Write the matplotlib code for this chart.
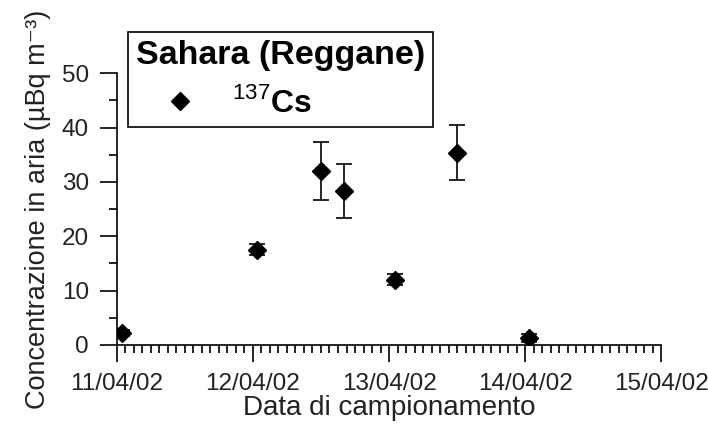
import matplotlib
matplotlib.use("Agg")
import matplotlib.pyplot as plt
import matplotlib.dates as mdates
from matplotlib.ticker import MultipleLocator
from datetime import datetime

plt.rcParams['font.family'] = ['Liberation Sans', 'DejaVu Sans']
plt.rcParams['mathtext.fontset'] = 'custom'
plt.rcParams['mathtext.rm'] = 'Liberation Sans'
plt.rcParams['mathtext.bf'] = 'Liberation Sans:bold'

# sampling times, Cs-137 concentration and uncertainty
dates = ["2002-04-11 01:00", "2002-04-12 00:45", "2002-04-12 12:00",
         "2002-04-12 16:00", "2002-04-13 01:00", "2002-04-13 12:00",
         "2002-04-14 00:45"]
cs137 = [2.2, 17.5, 32.0, 28.3, 12.0, 35.4, 1.3]
cs137_err = [0.6, 1.0, 5.3, 5.0, 1.0, 5.0, 0.8]

x = [datetime.strptime(d, "%Y-%m-%d %H:%M") for d in dates]

fig = plt.figure(figsize=(7.08, 4.28), dpi=100)
ax = fig.add_axes([0.165, 0.194, 0.769, 0.635])

ax.errorbar(x, cs137, yerr=cs137_err, fmt='none', ecolor='black',
            elinewidth=1.2, capsize=6, capthick=1.2)
ax.plot(x, cs137, 'D', color='black', ms=9.5,
        label=r'$^{\mathrm{137}}\mathbf{Cs}$')

ax.set_xlim(datetime(2002, 4, 11), datetime(2002, 4, 15))
ax.set_ylim(0, 50)
ax.xaxis.set_major_locator(MultipleLocator(1))
ax.xaxis.set_minor_locator(MultipleLocator(1 / 16))
ax.xaxis.set_major_formatter(mdates.DateFormatter('%d/%m/%y'))
ax.yaxis.set_major_locator(MultipleLocator(10))
ax.yaxis.set_minor_locator(MultipleLocator(5))

for s in ['top', 'right']:
    ax.spines[s].set_visible(False)
for s in ['left', 'bottom']:
    ax.spines[s].set_linewidth(1.2)
ax.tick_params(which='major', direction='out', length=12, width=1.2,
               labelsize=17.5, pad=8, labelcolor='#222222')
ax.tick_params(which='minor', direction='out', length=6, width=1.2)

ax.set_xlabel('Data di campionamento', fontsize=20, color='#222222', labelpad=0)
ax.set_ylabel('Concentrazione in aria (µBq m⁻³)', fontsize=19.5,
              color='#222222', labelpad=8)

leg = ax.legend(loc='upper left', bbox_to_anchor=(0.02, 1.15),
                title='Sahara (Reggane)', fontsize=23, frameon=True,
                fancybox=False, borderpad=0.25, handletextpad=0.2,
                borderaxespad=0, markerscale=0.95, numpoints=1,
                handlelength=2.8)
leg.get_title().set_fontsize(24.5)
leg.get_title().set_fontweight('bold')
leg._legend_box.align = 'left'
leg.get_frame().set_edgecolor('black')
leg.get_frame().set_linewidth(1.2)
leg.get_frame().set_alpha(1)
leg.set_clip_on(False)

fig.savefig('out.png', dpi=100, facecolor='white')
